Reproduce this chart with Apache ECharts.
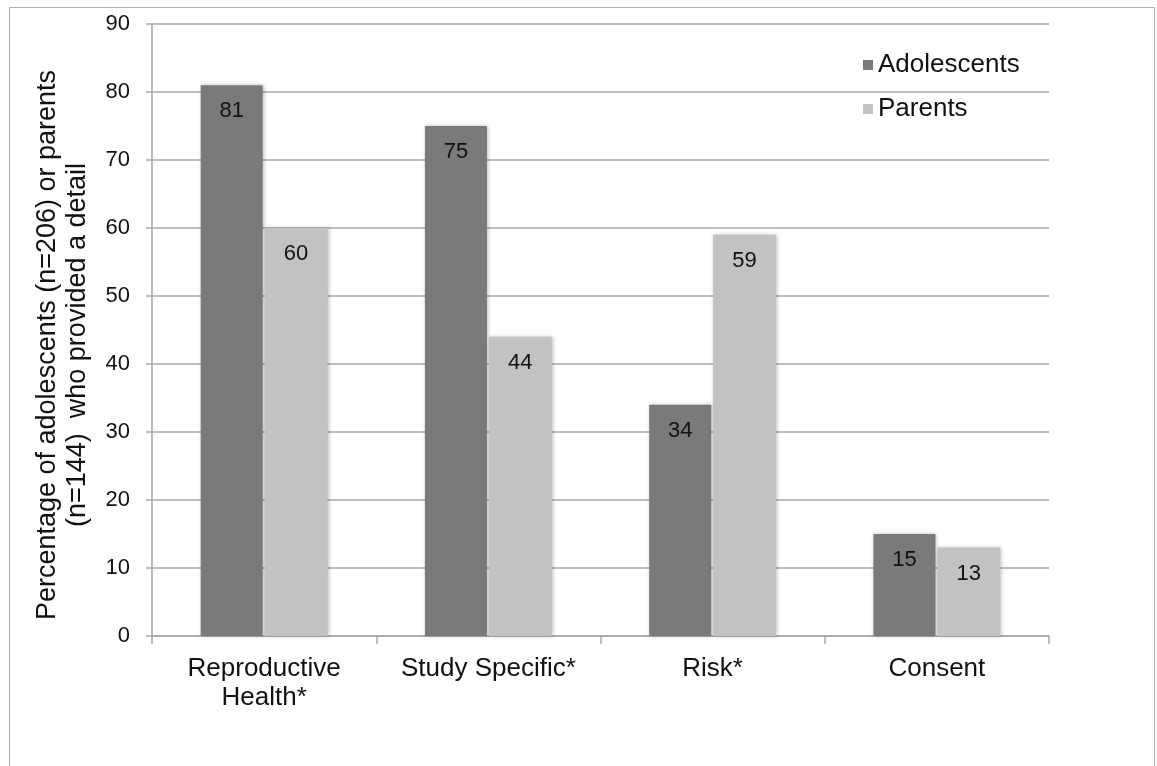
<!DOCTYPE html>
<html>
<head>
<meta charset="utf-8">
<script src="https://cdn.jsdelivr.net/npm/echarts@6/dist/echarts.min.js"></script>
<style>
  html, body { margin: 0; padding: 0; background: #fff; }
  #chart { width: 1157px; height: 766px; }
</style>
</head>
<body>
<div id="chart"></div>
<script>
const categories = ['Reproductive\nHealth*', 'Study Specific*', 'Risk*', 'Consent'];
const adolescents = [81, 75, 34, 15];
const parents = [60, 44, 59, 13];
const yTicks = { min: 0, max: 90, interval: 10 };
const yTitle = 'Percentage of adolescents (n=206) or parents\n(n=144)  who provided a detail';

const FONT = '"Liberation Sans", Arial, sans-serif';
const GRID_COLOR = '#a6a6a6';

const chart = echarts.init(document.getElementById('chart'), null, { renderer: 'canvas' });

const barLabel = {
  show: true,
  position: 'insideTop',
  distance: 15,
  color: '#111',
  fontFamily: FONT,
  fontSize: 22
};
const barShadow = {
  shadowBlur: 4,
  shadowColor: 'rgba(0,0,0,0.25)',
  shadowOffsetX: 1,
  shadowOffsetY: 0
};

chart.setOption({
  animation: false,
  backgroundColor: '#fff',
  graphic: [{
    type: 'rect',
    shape: { x: 9.5, y: 7.5, width: 1145, height: 800 },
    style: { fill: 'none', stroke: '#b0b0b0', lineWidth: 1 },
    z: -1
  }],
  grid: { left: 152, right: 108, top: 24, bottom: 130, containLabel: false },
  legend: {
    orient: 'vertical',
    left: 858,
    top: 47,
    itemWidth: 10,
    itemHeight: 10,
    itemGap: 18,
    icon: 'rect',
    textStyle: { fontFamily: FONT, fontSize: 26, color: '#111', padding: [0, 0, 0, 0] },
    data: ['Adolescents', 'Parents']
  },
  xAxis: {
    type: 'category',
    data: categories,
    axisLine: { lineStyle: { color: GRID_COLOR, width: 1.5 } },
    axisTick: { show: true, alignWithLabel: false, length: 8, lineStyle: { color: GRID_COLOR, width: 1.5 } },
    axisLabel: {
      fontFamily: FONT, fontSize: 26, color: '#111', margin: 18,
      lineHeight: 29, interval: 0
    }
  },
  yAxis: {
    type: 'value',
    min: yTicks.min,
    max: yTicks.max,
    interval: yTicks.interval,
    name: yTitle,
    nameLocation: 'middle',
    nameGap: 59,
    nameTextStyle: {
      fontFamily: FONT, fontSize: 27, color: '#111', lineHeight: 30, align: 'center',
      padding: [0, 30, 0, 0]
    },
    axisLine: { show: true, lineStyle: { color: GRID_COLOR, width: 1.5 } },
    axisTick: { show: true, length: 6, lineStyle: { color: GRID_COLOR, width: 1.5 } },
    axisLabel: { fontFamily: FONT, fontSize: 22, color: '#111', margin: 22 },
    splitLine: { show: true, lineStyle: { color: GRID_COLOR, width: 1.5 } }
  },
  series: [
    {
      name: 'Adolescents',
      type: 'bar',
      data: adolescents,
      barWidth: 62,
      barGap: '3%',
      itemStyle: Object.assign({ color: '#7a7a7a' }, barShadow),
      label: barLabel
    },
    {
      name: 'Parents',
      type: 'bar',
      data: parents,
      barWidth: 63,
      itemStyle: Object.assign({ color: '#c2c2c2' }, barShadow),
      label: barLabel
    }
  ]
});
</script>
</body>
</html>
